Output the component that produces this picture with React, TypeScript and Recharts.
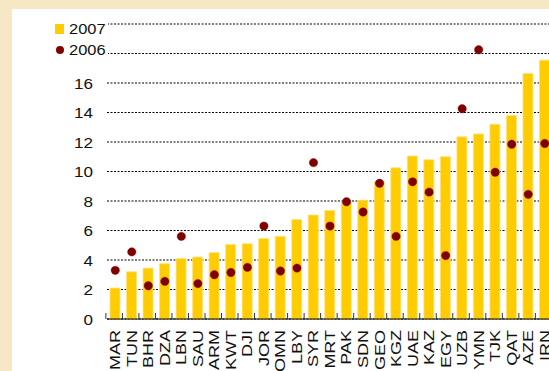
import React from 'react'
import { CartesianGrid, ComposedChart, Bar, Line, Legend, XAxis, YAxis } from 'recharts'

const countries = [
  'MAR', 'TUN', 'BHR', 'DZA', 'LBN', 'SAU', 'ARM', 'KWT', 'DJI', 'JOR', 'OMN', 'LBY', 'SYR', 'MRT',
  'PAK', 'SDN', 'GEO', 'KGZ', 'UAE', 'KAZ', 'EGY', 'UZB', 'YMN', 'TJK', 'QAT', 'AZE', 'IRN',
]
const values2007 = [
  2.1, 3.2, 3.45, 3.75, 4.1, 4.2, 4.5, 5.05, 5.1, 5.45, 5.6, 6.75, 7.05, 7.35,
  7.95, 8.05, 9.3, 10.25, 11.05, 10.8, 11.0, 12.35, 12.55, 13.2, 13.8, 16.65, 17.55,
]
const values2006 = [
  3.3, 4.55, 2.25, 2.55, 5.6, 2.4, 3.0, 3.15, 3.5, 6.3, 3.25, 3.45, 10.6, 6.3,
  7.95, 7.25, 9.2, 5.6, 9.3, 8.6, 4.3, 14.25, 18.25, 9.95, 11.85, 8.45, 11.9,
]
const yTicks = [0, 2, 4, 6, 8, 10, 12, 14, 16, 18, 20]

const data = countries.map((c, i) => ({ name: c, y2007: values2007[i], y2006: values2006[i] }))

const FONT = '"Liberation Sans", Arial, sans-serif'
const BAR_COLOR = '#ffcc00'
const DOT_COLOR = '#800000'
const PLOT_LEFT = 47
const PLOT_WIDTH = 506
const BAND = PLOT_WIDTH / countries.length

// category label rotated upward (slightly widened face), plus a small inward tick at the band's left edge
function CountryTick({ x, y, payload }: any) {
  const edge = x - BAND / 2
  const ty = y + 11
  return (
    <g>
      <line x1={edge} y1={y} x2={edge} y2={y - 6} stroke="#333" strokeWidth={1} />
      <text
        transform={`translate(${x}, ${ty}) rotate(-90) scale(1.2, 1)`}
        textAnchor="end"
        dominantBaseline="central"
        fontFamily={FONT}
        fontSize={15}
        fill="#111"
      >
        {payload.value}
      </text>
    </g>
  )
}

function ValueTick({ x, y, payload }: any) {
  return (
    <text
      transform={`translate(${x}, ${y}) scale(1.1, 1)`}
      textAnchor="end"
      dominantBaseline="central"
      fontFamily={FONT}
      fontSize={15.5}
      fill="#111"
    >
      {payload.value}
    </text>
  )
}

function LegendBox() {
  const text = { position: 'absolute' as const, left: 21, lineHeight: '18px', fontSize: 15.5, transform: 'scaleX(1.06)', transformOrigin: 'left' }
  return (
    <div style={{ position: 'relative', background: '#fff', width: 60, height: 46, fontFamily: FONT, color: '#111' }}>
      <span style={{ position: 'absolute', left: 7, top: 10, width: 9, height: 10, background: BAR_COLOR }} />
      <span style={{ ...text, top: 6 }}>2007</span>
      <span style={{ position: 'absolute', left: 8, top: 32, width: 8, height: 8, borderRadius: '50%', background: DOT_COLOR }} />
      <span style={{ ...text, top: 27 }}>2006</span>
    </div>
  )
}

export default function App() {
  return (
    <div style={{ position: 'absolute', left: 0, top: 0, width: 549, height: 371, overflow: 'hidden', background: '#f6e7c5' }}>
      <div style={{ position: 'absolute', left: 12, top: 9, right: 0, bottom: 0, background: '#fff' }} />
      <div style={{ position: 'absolute', left: 0, top: 0 }}>
        <ComposedChart
          width={560}
          height={371}
          data={data}
          margin={{ top: 24, right: 560 - PLOT_LEFT - PLOT_WIDTH, bottom: 0, left: 12 }}
        >
          <CartesianGrid horizontal vertical={false} stroke="#000" strokeDasharray="2 1.5" strokeWidth={1.2} />
          <XAxis
            dataKey="name"
            interval={0}
            height={52}
            tickLine={false}
            tickSize={0}
            tickMargin={0}
            axisLine={{ stroke: '#000', strokeWidth: 1.2 }}
            tick={<CountryTick />}
          />
          <YAxis
            width={35}
            domain={[0, 20]}
            ticks={yTicks}
            interval={0}
            axisLine={false}
            tickLine={false}
            tickSize={6}
            tickMargin={8}
            tick={<ValueTick />}
          />
          <Legend
            layout="vertical"
            verticalAlign="top"
            align="left"
            wrapperStyle={{ left: PLOT_LEFT + 1, top: 14, width: 60 }}
            content={<LegendBox />}
          />
          <Bar dataKey="y2007" name="2007" barSize={10} fill={BAR_COLOR} stroke="#ffe27a" strokeWidth={0.8} isAnimationActive={false} />
          <Line
            dataKey="y2006"
            name="2006"
            stroke="none"
            dot={{ r: 4.2, fill: DOT_COLOR, stroke: DOT_COLOR, strokeWidth: 0.4 }}
            activeDot={false}
            isAnimationActive={false}
          />
        </ComposedChart>
      </div>
    </div>
  )
}
